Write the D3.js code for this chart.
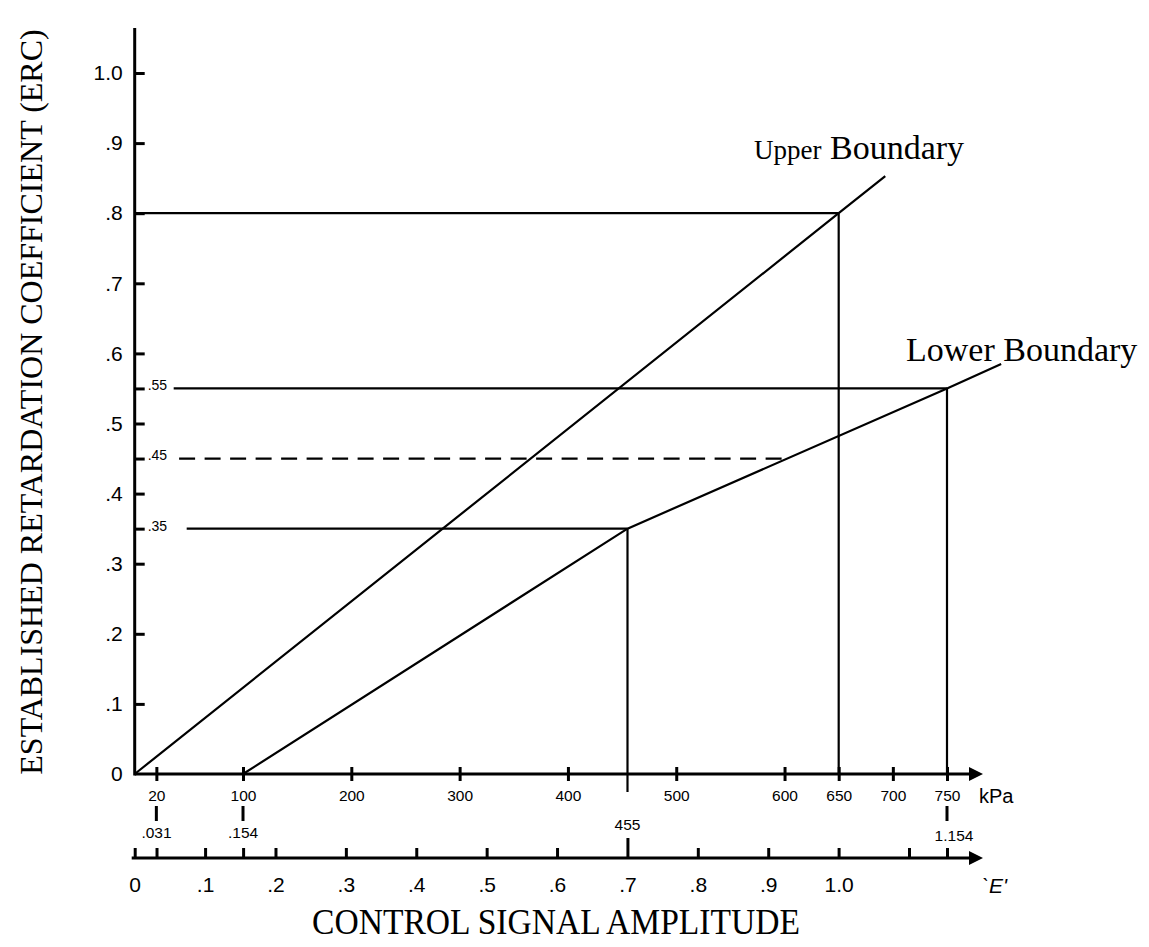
<!DOCTYPE html>
<html>
<head>
<meta charset="utf-8">
<script src="https://cdn.jsdelivr.net/npm/d3@7"></script>
<style>
  body { margin: 0; background: #fff; }
  .tick text { font-family: "Liberation Sans", Arial, sans-serif; fill: #000; }
</style>
</head>
<body>
<div id="chart"></div>
<script>
// values
var ercTicks = [0, .1, .2, .3, .4, .5, .6, .7, .8, .9, 1.0];
var ercMarks = [.55, .45, .35];
var kpaTicks = [20, 100, 200, 300, 400, 500, 600, 650, 700, 750];
var eTicks = [0, .031, .1, .154, .2, .3, .4, .5, .6, .7, .8, .9, 1.0, 1.1, 1.154];
var eLabels = [0, .1, .2, .3, .4, .5, .6, .7, .8, .9, 1.0];
var eMarks = [.031, .154, 1.154];
var kpaMarks = [20, 100, 750];

// boundary lines (kPa, ERC)
var upperKpa = [0, 650, 693];
var upperErc = [0, .8, .853];
var lowerKpa = [100, 455, 750, 800];
var lowerErc = [0, .35, .55, .585];

// horizontal reference levels
var levelErc = [.8, .55, .45, .35];
var levelFrom = [0, 36, 41, 48];
var levelTo = [650, 750, 602, 455];
var levelDash = [false, false, true, false];

// vertical drops to the kPa axis
var dropKpa = [455, 650, 750];
var dropErc = [.35, .8, .55];

var width = 1149, height = 947;
var svg = d3.select("#chart").append("svg")
  .attr("width", width)
  .attr("height", height);

var x = d3.scaleLinear().domain([0, 750]).range([134.7, 947]);
var e = d3.scaleLinear().domain([0, 1.154]).range([134.7, 947]);
var y = d3.scaleLinear().domain([0, 1]).range([774, 73]);

var kpaY = y(0);      // kPa axis
var eY = 858;         // E' axis
var tipX = 983;       // arrow tips
var sans = "'Liberation Sans', Arial, sans-serif";
var serif = "'Liberation Serif', 'Times New Roman', serif";

function fmt(d) {
  if (d === 0) return "0";
  if (d === 1) return "1.0";
  return d3.format(".1f")(d).replace(/^0/, "");
}

// ---- Y axis
var yAxis = svg.append("g")
  .attr("transform", "translate(" + x(0) + ",0)")
  .call(d3.axisLeft(y).tickValues(ercTicks.filter(function(d) { return d > 0; }))
    .tickSizeInner(-10).tickSizeOuter(0).tickPadding(12).tickFormat(fmt));
yAxis.select(".domain").remove();
yAxis.selectAll(".tick line").attr("stroke", "#000").attr("stroke-width", 3);
yAxis.selectAll(".tick text").style("font-size", "21px");

var yMarks = svg.append("g")
  .attr("transform", "translate(" + x(0) + ",0)")
  .call(d3.axisLeft(y).tickValues(ercMarks).tickSizeInner(-10).tickSizeOuter(0).tickFormat(""));
yMarks.select(".domain").remove();
yMarks.selectAll(".tick line").attr("stroke", "#000").attr("stroke-width", 3);

svg.append("text")
  .attr("x", x(0) - 12).attr("y", kpaY).attr("dy", "0.35em")
  .attr("text-anchor", "end")
  .style("font-family", sans).style("font-size", "21px")
  .text("0");

svg.append("line")
  .attr("x1", x(0)).attr("x2", x(0))
  .attr("y1", kpaY + 1.5).attr("y2", 28)
  .attr("stroke", "#000").attr("stroke-width", 3);

svg.selectAll(".mark-label")
  .data(ercMarks)
  .enter().append("text")
  .attr("class", "mark-label")
  .attr("x", x(0) + 13)
  .attr("y", function(d) { return y(d) - 3; })
  .attr("dy", "0.35em")
  .style("font-family", sans).style("font-size", "14px")
  .text(function(d) { return d3.format(".2f")(d).replace(/^0/, ""); });

// ---- kPa axis
var kAxis = svg.append("g")
  .attr("transform", "translate(0," + kpaY + ")")
  .call(d3.axisBottom(x).tickValues(kpaTicks).tickSizeInner(7).tickSizeOuter(0).tickPadding(9));
kAxis.select(".domain").remove();
kAxis.selectAll(".tick line").attr("y1", -7).attr("stroke", "#000").attr("stroke-width", 3);
kAxis.selectAll(".tick text").style("font-size", "15.5px");

svg.append("line")
  .attr("x1", x(0)).attr("x2", tipX - 10)
  .attr("y1", kpaY).attr("y2", kpaY)
  .attr("stroke", "#000").attr("stroke-width", 3);
svg.append("path")
  .attr("d", "M" + (tipX - 14) + "," + (kpaY - 7) + "L" + tipX + "," + kpaY + "L" + (tipX - 14) + "," + (kpaY + 7) + "Z")
  .attr("fill", "#000");
svg.append("text")
  .attr("x", 979).attr("y", kpaY + 29)
  .style("font-family", sans).style("font-size", "20px")
  .text("kPa");

// 455 label under the kPa axis
svg.append("text")
  .attr("x", x(455)).attr("y", kpaY + 51)
  .attr("dy", "0.35em")
  .attr("text-anchor", "middle")
  .style("font-family", sans).style("font-size", "15.5px")
  .text("455");

// short dashes linking kPa to E'
svg.selectAll(".link")
  .data(kpaMarks)
  .enter().append("line")
  .attr("x1", function(d) { return x(d); })
  .attr("x2", function(d) { return x(d); })
  .attr("y1", kpaY + 32).attr("y2", kpaY + 47)
  .attr("stroke", "#000").attr("stroke-width", 3);

svg.selectAll(".e-mark")
  .data(eMarks)
  .enter().append("text")
  .attr("x", function(d) { return e(d) + (d > 1 ? 7 : 0); })
  .attr("y", function(d) { return d > 1 ? 836 : 833; })
  .attr("dy", "0.35em")
  .attr("text-anchor", "middle")
  .style("font-family", sans).style("font-size", "15.5px")
  .text(function(d) { return d > 1 ? "1.154" : d3.format(".3f")(d).replace(/^0/, ""); });

// ---- E' axis
var eAxis = svg.append("g")
  .attr("transform", "translate(0," + eY + ")")
  .call(d3.axisBottom(e).tickValues(eTicks).tickSizeInner(-10).tickSizeOuter(0).tickPadding(19)
    .tickFormat(function(d) { return eLabels.indexOf(d) >= 0 ? fmt(d) : ""; }));
eAxis.select(".domain").remove();
eAxis.selectAll(".tick line").attr("stroke", "#000").attr("stroke-width", 3)
  .attr("y2", function(d) { return d === .7 ? -20 : -10; });
eAxis.selectAll(".tick text").style("font-size", "21px");

svg.append("line")
  .attr("x1", x(0) - 3).attr("x2", tipX - 10)
  .attr("y1", eY).attr("y2", eY)
  .attr("stroke", "#000").attr("stroke-width", 3);
svg.append("path")
  .attr("d", "M" + (tipX - 14) + "," + (eY - 7) + "L" + tipX + "," + eY + "L" + (tipX - 14) + "," + (eY + 7) + "Z")
  .attr("fill", "#000");
svg.append("text")
  .attr("x", 982).attr("y", eY + 35)
  .style("font-family", sans).style("font-size", "21px").style("font-style", "italic")
  .text("`E'");

// ---- reference levels
svg.selectAll(".level")
  .data(levelErc)
  .enter().append("line")
  .attr("x1", function(d, i) { return x(levelFrom[i]); })
  .attr("x2", function(d, i) { return x(levelTo[i]); })
  .attr("y1", function(d) { return y(d); })
  .attr("y2", function(d) { return y(d); })
  .attr("stroke", "#000").attr("stroke-width", 2.2)
  .attr("stroke-dasharray", function(d, i) { return levelDash[i] ? "16,9.5" : null; });

svg.selectAll(".drop")
  .data(dropKpa)
  .enter().append("line")
  .attr("x1", function(d) { return x(d); })
  .attr("x2", function(d) { return x(d); })
  .attr("y1", function(d, i) { return y(dropErc[i]); })
  .attr("y2", function(d) { return d === 455 ? kpaY + 18 : kpaY; })
  .attr("stroke", "#000").attr("stroke-width", 2.2);

// ---- boundaries
var line = d3.line()
  .x(function(d) { return x(d[0]); })
  .y(function(d) { return y(d[1]); });

svg.append("path")
  .attr("d", line(d3.zip(upperKpa, upperErc)))
  .attr("fill", "none").attr("stroke", "#000").attr("stroke-width", 2.2);
svg.append("path")
  .attr("d", line(d3.zip(lowerKpa, lowerErc)))
  .attr("fill", "none").attr("stroke", "#000").attr("stroke-width", 2.2)
  .attr("stroke-linejoin", "miter");

var up = svg.append("text")
  .attr("x", 754).attr("y", 159)
  .style("font-family", serif);
up.append("tspan").style("font-size", "27px").text("Upper");
up.append("tspan").style("font-size", "34px").text(" Boundary");

svg.append("text")
  .attr("x", 906).attr("y", 361)
  .style("font-family", serif).style("font-size", "34px")
  .text("Lower Boundary");

// ---- titles
svg.append("text")
  .attr("x", 556).attr("y", 934)
  .attr("text-anchor", "middle")
  .attr("textLength", 488).attr("lengthAdjust", "spacingAndGlyphs")
  .style("font-family", serif).style("font-size", "35px")
  .text("CONTROL SIGNAL AMPLITUDE");

svg.append("text")
  .attr("transform", "translate(42,402) rotate(-90)")
  .attr("text-anchor", "middle")
  .style("font-family", serif).style("font-size", "32px")
  .text("ESTABLISHED RETARDATION COEFFICIENT (ERC)");
</script>
</body>
</html>
